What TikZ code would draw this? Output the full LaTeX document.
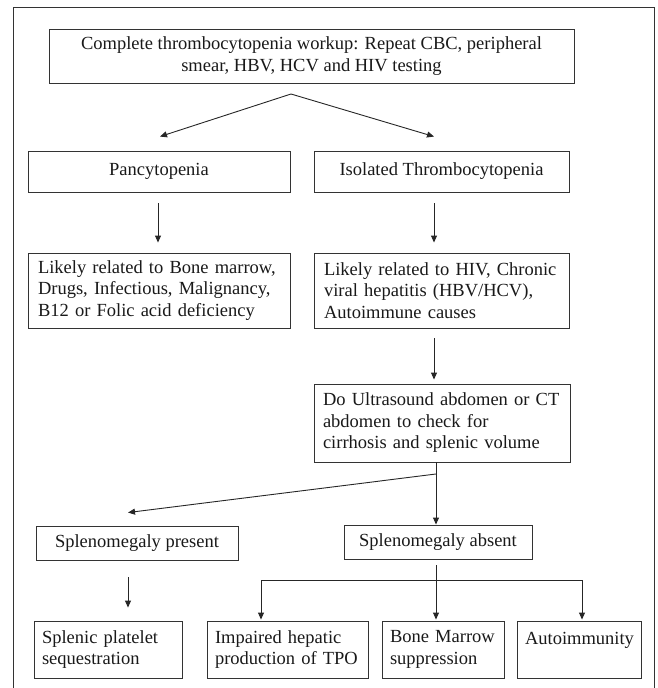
\documentclass[tikz,border=0pt]{standalone}
\usepackage{fontspec}
\setmainfont{Liberation Serif}
\usetikzlibrary{arrows.meta, positioning, calc}

\begin{document}
\begin{tikzpicture}[x=1pt, y=-1pt, font=\fontsize{18.5}{21.5}\selectfont, >={Triangle[length=7pt, width=6pt]},
  box/.style={draw=black!80, line width=0.9pt, inner xsep=10pt, inner ysep=0pt, align=left, text=black!90},
  leaf/.style={box, inner xsep=8pt, minimum height=57pt},
  link/.style={draw=black!85, line width=0.9pt},
  arr/.style={link, ->}]
\useasboundingbox (0,0) rectangle (658,688);
% outer frame
\draw[black!80, line width=1pt] (13,700) -- (13,7) -- (654,7) -- (654,700);
\node[box, align=center, minimum width=525pt, minimum height=54pt] (workup) at (311.5,56) {Complete thrombocytopenia workup: Repeat CBC, peripheral\\smear, HBV, HCV and HIV testing};
\node[box, align=center, minimum width=262pt, minimum height=41pt] (pan) at (159,171.5) {Pancytopenia};
\node[box, align=center, minimum width=255pt, minimum height=41pt] (iso) at (441.5,171.5) {Isolated Thrombocytopenia};
\node[box, text width=242pt, minimum height=75pt] (marrow) at (159,290.5) {Likely related to Bone marrow,\\Drugs, Infectious, Malignancy,\\B12 or Folic acid deficiency};
\node[box, text width=235pt, minimum height=75pt] (viral) at (441.5,290.5) {Likely related to HIV, Chronic\\viral hepatitis (HBV/HCV),\\Autoimmune causes};
\node[box, inner xsep=9pt, text width=238pt, minimum height=78pt] (imaging) at (442,423) {Do Ultrasound abdomen or CT\\abdomen to check for\\cirrhosis and splenic volume};
\node[box, align=center, minimum width=202pt, minimum height=34pt] (present) at (137,543) {Splenomegaly present};
\node[box, align=center, minimum width=188pt, minimum height=34pt] (absent) at (438,542) {Splenomegaly absent};
\node[leaf, text width=132pt] (seq) at (108,649.5) {Splenic platelet\\sequestration};
\node[leaf, text width=145pt] (tpo) at (287.5,649.5) {Impaired hepatic\\production of TPO};
\node[leaf, text width=106pt] (supp) at (443,649.5) {Bone Marrow\\suppression};
\node[leaf, text width=108pt] (auto) at (579,649.5) {Autoimmunity\\\mbox{}};

% connectors
\coordinate (split1) at (291,94);
\coordinate (split2) at (436,474);
\coordinate (bus) at (436,580);
\draw[arr] (split1) -- ([shift={(1,-14)}]pan.north);
\draw[arr] (split1) -- ([shift={(-7.5,-14)}]iso.north);
\draw[arr, shorten <=11pt, shorten >=10pt] ([xshift=-1pt]pan.south) -- ([xshift=-1pt]marrow.north);
\draw[arr, shorten <=11pt, shorten >=10pt] ([xshift=-7.5pt]iso.south) -- ([xshift=-7.5pt]viral.north);
\draw[arr, shorten <=10pt, shorten >=4pt] ([xshift=-7.5pt]viral.south) -- ([xshift=-8pt]imaging.north);
\draw[link] ([xshift=-6pt]imaging.south) -- (split2);
\draw[arr] (split2) -- ([shift={(-9,-13)}]present.north);
\draw[arr] (split2) -- (split2 |- absent.north);
\draw[arr, shorten <=17pt, shorten >=13pt] ([xshift=-9pt]present.south) -- ([xshift=-9pt]present.south |- seq.north);
\draw[link] ([shift={(-2,6)}]absent.south) -- (bus);
\draw[arr, shorten >=1pt] (bus) -| ([xshift=-26.5pt]tpo.north);
\draw[arr, shorten >=1pt] (bus) -- (bus |- supp.north);
\draw[arr, shorten >=1pt] (bus) -| ([xshift=3pt]auto.north);
\end{tikzpicture}
\end{document}
